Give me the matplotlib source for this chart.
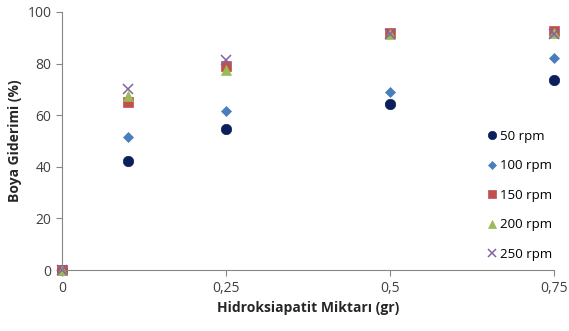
import matplotlib.pyplot as plt
import matplotlib

matplotlib.rcParams.update({'font.size': 10, 'font.family': ['Open Sans', 'DejaVu Sans']})

x = [0, 0.1, 0.25, 0.5, 0.75]
rpm_50 = [0, 42.2, 54.5, 64.5, 73.5]
rpm_100 = [0, 51.5, 61.5, 69, 82]
rpm_150 = [0, 65, 79, 92, 92.5]
rpm_200 = [0, 67.5, 77.5, 91.5, 92]
rpm_250 = [0, 70, 81.5, 91.5, 91.5]
labels = ['50 rpm', '100 rpm', '150 rpm', '200 rpm', '250 rpm']
xticks = [0, 0.25, 0.5, 0.75]
xticklabels = ['0', '0,25', '0,5', '0,75']

series = [rpm_50, rpm_100, rpm_150, rpm_200, rpm_250]
colors = ['#0b1f5c', '#4a7ebb', '#c0504d', '#9bbb59', '#8064a2']
markers = ['o', 'D', 's', '^', 'x']
sizes = [7.5, 5.5, 7, 7, 7]

fig = plt.figure(figsize=(5.69, 3.31), dpi=100)
ax = fig.add_axes([0.109, 0.184, 0.865, 0.78])
for y, c, m, s, lab in zip(series, colors, markers, sizes, labels):
    ax.plot(x, y, linestyle='none', marker=m, color=c, markersize=s,
            markeredgewidth=1.1 if m == 'x' else 0.5, label=lab, clip_on=False)

ax.set_xlim(0, 0.75)
ax.set_ylim(0, 100)
ax.set_xticks(xticks)
ax.set_xticklabels(xticklabels)
ax.set_yticks(range(0, 101, 20))
for s in ['top', 'right']:
    ax.spines[s].set_visible(False)
for s in ['left', 'bottom']:
    ax.spines[s].set_color('#868686')
ax.tick_params(colors='#868686', labelcolor='#404040', length=4)
ax.set_xlabel('Hidroksiapatit Miktarı (gr)', fontweight='bold', color='#262626')
ax.set_ylabel('Boya Giderimi (%)', fontweight='bold', color='#262626')

ax.legend(loc='lower right', frameon=False, handletextpad=0.1, handlelength=1.0,
          labelspacing=1.25, markerscale=0.8, bbox_to_anchor=(1.02, -0.01), fontsize=9.5)

plt.savefig('out.png')
